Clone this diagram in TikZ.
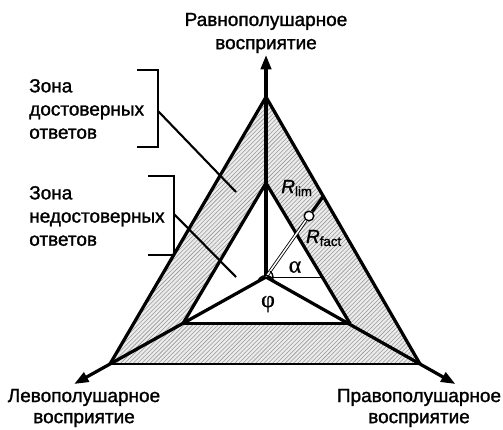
\documentclass[tikz,border=0pt]{standalone}
\usepackage{fontspec}
\setmainfont{Liberation Sans}[FakeBold=1.4]
\newfontfamily\grkfont{Liberation Serif}[FakeBold=0.6]
\usetikzlibrary{arrows.meta, calc, patterns}

\begin{document}
\begin{tikzpicture}[x=0.025cm, y=-0.025cm, >={Triangle[length=3.6mm, width=2.6mm]},
  font=\fontsize{13.5}{16.5}\selectfont,
  side/.style={line width=2.3pt},
  base/.style={line width=1.5pt},
  axis/.style={line width=2.3pt, ->},
  zone/.style={even odd rule, preaction={fill=gray!15, even odd rule},
               pattern=north east lines, pattern color=gray!80},
  leader/.style={line width=1.5pt},
  dot/.style={draw, circle, fill=white, line width=1pt, minimum size=2.4mm, inner sep=0pt},
  lbl/.style={align=center, inner sep=0pt},
  greek/.style={inner sep=0pt, font=\grkfont\fontsize{17}{17}\selectfont}]

\useasboundingbox (0,0) rectangle (503,429);

% =================================================================================
% points: centre, outer and inner triangle
% =================================================================================
\coordinate (O)   at (266,277);
\coordinate (A)   at (266,97);
\coordinate (BL)  at (110,364);
\coordinate (BR)  at (420,364);
\coordinate (iA)  at (266,183);
\coordinate (iBL) at (183,323.5);
\coordinate (iBR) at (350,323.5);
\coordinate (Ytip) at (266,55);
\coordinate (Ltip) at ($(O)!1.23!(BL)$);
\coordinate (Rtip) at ($(O)!1.23!(BR)$);
\coordinate (F)   at (323.5,196);
\coordinate (H)   at (322,277);

% =================================================================================
% the two zones
% =================================================================================
\path[zone] (A) -- (BR) -- (BL) -- cycle (iA) -- (iBR) -- (iBL) -- cycle;
\draw[side] (BL) -- (A) -- (BR);
\draw[base] (BL) -- (BR);
\draw[side] (iBL) -- (iA) -- (iBR);
\draw[base] (iBL) -- (iBR);

% =================================================================================
% axes
% =================================================================================
\draw[axis] (O) -- (Ytip);
\draw[axis] (O) -- (Ltip);
\draw[axis] (O) -- (Rtip);

\node[dot] (Rc) at (309,216) {};
\draw[double, line width=0.6pt, double distance=1.1pt] (O) -- (Rc);
\draw[line width=2.3pt] (Rc) -- (F);
\draw[line width=0.7pt] (O) -- (H);
\draw[line width=1pt] ([shift={(0:7)}]O) arc[start angle=0, end angle=-55, radius=7];
\draw[line width=1pt] ([shift={(155:9)}]O) arc[start angle=-155, end angle=-25, radius=9];

\node[inner sep=0pt] (rlim)  at (297,188) {\textit{R}\textsubscript{lim}};
\node[inner sep=0pt] (rfact) at (324,238) {\textit{R}\textsubscript{fact}};
\node[greek] (alpha) at (295,267) {α};
\node[greek] (phi)   at (268,304) {φ};

% =================================================================================
% the two zone labels
% =================================================================================
\node[lbl, align=left, anchor=west] (z1) at (29,109) {Зона\\достоверных\\ответов};
\node[lbl, align=left, anchor=west] (z2) at (29,216) {Зона\\недостоверных\\ответов};

\draw[base] (137,70) -| (158,147) -- (137,147);
\draw[base] (148,176) -| (174,255) -- (148,255);
\coordinate (b1) at (158,111);
\coordinate (b2) at (174,214);
\coordinate (e1) at (236,192);
\coordinate (e2) at (236,277);
\draw[leader] (b1) -- (e1);
\draw[leader] (b2) -- (e2);

% =================================================================================
% axis names
% =================================================================================
\node[lbl] (top)   at (266,33)  {Равнополушарное\\восприятие};
\node[lbl, font=\fontsize{13.5}{15}\selectfont] (left)  at (84,408)  {Левополушарное\\восприятие};
\node[lbl, font=\fontsize{13.5}{15}\selectfont] (right) at (419,408) {Правополушарное\\восприятие};

\end{tikzpicture}
\end{document}
